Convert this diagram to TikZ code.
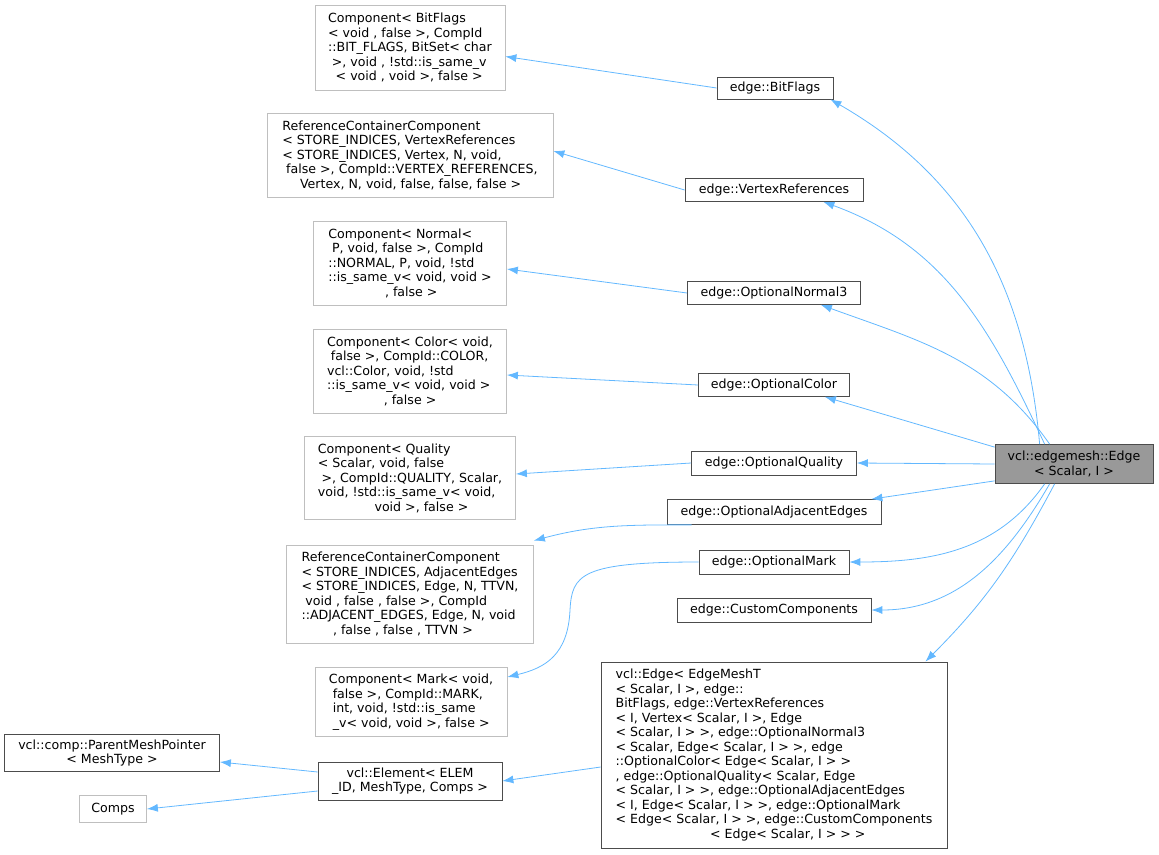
\documentclass[tikz,border=0pt]{standalone}
\usepackage{fontspec}
\setmainfont{DejaVu Sans}
\usetikzlibrary{arrows.meta}
\definecolor{edgeblue}{RGB}{99,184,255}
\definecolor{boxgray}{RGB}{191,191,191}
\definecolor{basefill}{RGB}{153,153,153}
\tikzset{every picture/.style={line width=0.75pt},
  classbox/.style={draw=black!70,fill=white,align=center,inner sep=2pt,font=\fontsize{12.6}{14.5}\selectfont},
  extbox/.style={classbox,draw=boxgray,align=left},
  inherit/.style={draw=edgeblue,line width=0.8pt,-{Latex[length=11pt,width=8pt]}}}
\begin{document}
\begin{tikzpicture}[x=1pt,y=1pt,yscale=-1]
\useasboundingbox (0,0) rectangle (1159,854);

% base class
\node [classbox,fill=basefill,minimum width=158pt,minimum height=39pt] (edgemesh) at (1074,464) {vcl::edgemesh::Edge\\< Scalar, I >};

% direct bases
\node [classbox,minimum width=116pt,minimum height=22pt] (bitflags) at (775,88) {edge::BitFlags};
\node [classbox,minimum width=178pt,minimum height=23pt] (vertrefs) at (774,190) {edge::VertexReferences};
\node [classbox,minimum width=173pt,minimum height=23pt] (normal) at (774,293) {edge::OptionalNormal3};
\node [classbox,minimum width=151pt,minimum height=23pt] (color) at (774,385) {edge::OptionalColor};
\node [classbox,minimum width=165pt,minimum height=24pt] (quality) at (774,463) {edge::OptionalQuality};
\node [classbox,minimum width=214pt,minimum height=25pt] (adjedges) at (774,512) {edge::OptionalAdjacentEdges};
\node [classbox,minimum width=150pt,minimum height=24pt] (mark) at (774,562) {edge::OptionalMark};
\node [classbox,minimum width=194pt,minimum height=24pt] (custom) at (774,610) {edge::CustomComponents};
\node [classbox,align=left,minimum width=346pt,minimum height=186pt] (vcledge) at (774,755) {vcl::Edge< EdgeMeshT\\< Scalar, I >, edge::\\BitFlags, edge::VertexReferences\\< I, Vertex< Scalar, I >, Edge\\< Scalar, I > >, edge::OptionalNormal3\\< Scalar, Edge< Scalar, I > >, edge\\::OptionalColor< Edge< Scalar, I > >\\, edge::OptionalQuality< Scalar, Edge\\< Scalar, I > >, edge::OptionalAdjacentEdges\\< I, Edge< Scalar, I > >, edge::OptionalMark\\< Edge< Scalar, I > >, edge::CustomComponents\\\hspace*{7.5em}< Edge< Scalar, I > > >};

% component templates
\node [extbox,minimum width=190pt,minimum height=85pt] (cbitflags) at (410,47.5) {Component< BitFlags\\< void , false  >, CompId\\::BIT\_FLAGS, BitSet< char\\ \hspace*{0.3em}>, void , !std::is\_same\_v\\ \hspace*{0.6em}< void , void >, false  >};
\node [extbox,minimum width=286pt,minimum height=84pt] (cvertrefs) at (410,155) {ReferenceContainerComponent\\< STORE\_INDICES, VertexReferences\\< STORE\_INDICES, Vertex, N, void,\\ \hspace*{0.3em}false >, CompId::VERTEX\_REFERENCES,\\ \hspace*{1.4em}Vertex, N, void, false, false, false >};
\node [extbox,minimum width=193pt,minimum height=84pt] (cnormal) at (410,263) {Component< Normal<\\ \hspace*{0.3em}P, void, false >, CompId\\::NORMAL, P, void, !std\\::is\_same\_v< void, void >\\ \hspace*{4.5em}, false >};
\node [extbox,minimum width=193pt,minimum height=84pt] (ccolor) at (410,371) {Component< Color< void,\\ \hspace*{0.3em}false >, CompId::COLOR,\\ vcl::Color, void, !std\\::is\_same\_v< void, void >\\ \hspace*{4.5em}, false >};
\node [extbox,minimum width=211pt,minimum height=83pt] (cquality) at (410,478) {Component< Quality\\< Scalar, void, false\\ \hspace*{0.3em}>, CompId::QUALITY, Scalar,\\void, !std::is\_same\_v< void,\\ \hspace*{4.5em}void >, false >};
\node [extbox,minimum width=247pt,minimum height=98pt] (cadjedges) at (410,594) {ReferenceContainerComponent\\< STORE\_INDICES, AdjacentEdges\\< STORE\_INDICES, Edge, N, TTVN,\\ \hspace*{0.3em}void , false , false  >, CompId\\::ADJACENT\_EDGES, Edge, N, void\\ \hspace*{2.5em}, false , false , TTVN >};
\node [extbox,minimum width=192pt,minimum height=69pt] (cmark) at (411,702) {Component< Mark< void,\\ \hspace*{0.3em}false >, CompId::MARK,\\ \hspace*{0.3em}int, void, !std::is\_same\\ \hspace*{0.3em}\_v< void, void >, false >};

% element and its bases
\node [classbox,minimum width=184pt,minimum height=38pt] (element) at (410,781) {vcl::Element< ELEM\\\_ID, MeshType, Comps >};
\node [classbox,minimum width=215pt,minimum height=37pt] (parentptr) at (112,753) {vcl::comp::ParentMeshPointer\\< MeshType >};
\node [extbox,minimum width=67pt,minimum height=27pt] (comps) at (113,809) {Comps};

% inheritance edges
\draw [inherit] ([xshift=45pt]edgemesh.north west) to[out=-95,in=30] ([xshift=-3pt]bitflags.south east);
\draw [inherit] ([xshift=50pt]edgemesh.north west) to[out=-115,in=20] ([xshift=-40pt]vertrefs.south east);
\draw [inherit] ([xshift=55pt]edgemesh.north west) to[out=-125,in=20] ([xshift=-40pt]normal.south east);
\draw [inherit] ([yshift=3pt]edgemesh.north west) -- ([xshift=-25pt]color.south east);
\draw [inherit] (edgemesh.west) -- (quality.east);
\draw [inherit] ([yshift=-3pt]edgemesh.south west) -- ([xshift=-10pt]adjedges.north east);
\draw [inherit] ([xshift=50pt]edgemesh.south west) to[out=125,in=0] (mark.east);
\draw [inherit] ([xshift=55pt]edgemesh.south west) to[out=120,in=0] (custom.east);
\draw [inherit] ([xshift=60pt]edgemesh.south west) to[out=118,in=-45] ([xshift=-22pt]vcledge.north east);
\draw [inherit] (bitflags.west) -- ([yshift=9pt]cbitflags.east);
\draw [inherit] (vertrefs.west) -- ([yshift=-4pt]cvertrefs.east);
\draw [inherit] (normal.west) -- ([yshift=6pt]cnormal.east);
\draw [inherit] (color.west) -- ([yshift=4pt]ccolor.east);
\draw [inherit] (quality.west) -- ([yshift=-4pt]cquality.east);
\draw [inherit] ([xshift=25pt]adjedges.south west) to[out=180,in=-15] ([yshift=-4pt]cadjedges.north east);
\draw [inherit] (mark.west) .. controls (580,562) and (572,575) .. (570,610) .. controls (568,655) and (545,668) .. ([yshift=-25pt]cmark.east);
\draw [inherit] ([yshift=12pt]vcledge.west) -- (element.east);
\draw [inherit] ([yshift=-9pt]element.west) -- ([yshift=9pt]parentptr.east);
\draw [inherit] ([yshift=10pt]element.west) -- (comps.east);
\end{tikzpicture}
\end{document}
